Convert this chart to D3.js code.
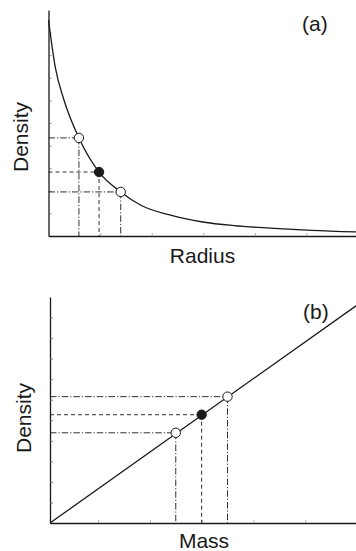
<!DOCTYPE html>
<html><head><meta charset="utf-8">
<script src="https://cdn.jsdelivr.net/npm/d3@7"></script>
<style>
html,body{margin:0;padding:0;background:#fff;}
svg text{font-family:"Liberation Sans",Arial,Helvetica,sans-serif;fill:#1a1a1a;}
</style></head>
<body><svg id="c" width="356" height="551"></svg>
<script>
// ---------- Data ----------
// Panel (a): density vs radius (decreasing curve)
const radiusCurveX = [0, 0.13, 0.30, 0.59, 0.98, 1.40, 1.80, 2.35, 2.99, 3.60, 4.29, 5.10, 5.96];
const radiusCurveY = [9.56, 7.48, 6.02, 4.34, 2.83, 1.95, 1.35, 0.93, 0.62, 0.46, 0.35, 0.25, 0.18];
const radiusPointsX = [0.59, 0.98, 1.40];
const radiusPointsY = [4.34, 2.83, 1.95];
const pointFilled = [false, true, false];
const radiusYTicks = [1, 2, 3, 4, 5, 6, 7, 8, 9];
const radiusXTicks = [1, 2, 3, 4, 5];

// Panel (b): density vs mass (straight line)
const massLineX = [0.07, 6.0];
const massLineY = [0, 10.6];
const massPointsX = [2.5, 3.0, 3.5];
const massPointsY = [4.39, 5.27, 6.15];
const massYTicks = [1, 2, 3, 4, 5, 6, 7, 8, 9, 10];
const massXTicks = [1, 2, 3, 4, 5];

const panelLabels = ["(a)", "(b)"];
const xTitles = ["Radius", "Mass"];
const yTitle = "Density";

// ---------- Drawing ----------
const svg = d3.select("#c");
const ink = "#1a1a1a";
const dashDot = "6.5,2,1.2,2";
const dashed = "4,3";
const fs = 21;

function panel(cfg) {
  const g = svg.append("g");
  const x = d3.scaleLinear().domain(cfg.xDomain).range(cfg.xRange);
  const y = d3.scaleLinear().domain(cfg.yDomain).range(cfg.yRange);

  // axes
  const ay = d3.axisLeft(y).tickValues(cfg.yTicks).tickSize(-3).tickSizeOuter(0).tickFormat("");
  const ax = d3.axisBottom(x).tickValues(cfg.xTicks).tickSize(-3).tickSizeOuter(0).tickFormat("");
  const gy = g.append("g").attr("transform", `translate(${cfg.xRange[0]},0)`).call(ay);
  const gx = g.append("g").attr("transform", `translate(0,${cfg.yRange[0]})`).call(ax);
  gy.select(".domain").attr("stroke", ink).attr("stroke-width", 1.3);
  gx.select(".domain").attr("stroke", ink).attr("stroke-width", 1.3);
  gy.selectAll(".tick line").attr("stroke", "#666").attr("stroke-width", 0.8);
  gx.selectAll(".tick line").attr("stroke", "#999").attr("stroke-width", 0.8);

  // guide lines
  const pts = cfg.px.map((v, i) => ({x: v, y: cfg.py[i], f: pointFilled[i]}));
  pts.forEach(p => {
    const dash = p.f ? dashed : dashDot;
    g.append("line").attr("x1", x(cfg.xDomain[0])).attr("x2", x(p.x))
      .attr("y1", y(p.y)).attr("y2", y(p.y))
      .attr("stroke", ink).attr("stroke-width", 0.9).attr("stroke-dasharray", dash);
    g.append("line").attr("x1", x(p.x)).attr("x2", x(p.x))
      .attr("y1", y(p.y)).attr("y2", y(cfg.yDomain[0]))
      .attr("stroke", ink).attr("stroke-width", 0.9).attr("stroke-dasharray", dash);
  });

  // curve
  const data = cfg.lx.map((v, i) => [v, cfg.ly[i]]);
  g.append("path").datum(data)
    .attr("fill", "none").attr("stroke", ink).attr("stroke-width", 1.3)
    .attr("d", d3.line().x(d => x(d[0])).y(d => y(d[1])).curve(d3.curveMonotoneX));

  // markers
  g.selectAll("circle.pt").data(pts).join("circle")
    .attr("cx", d => x(d.x)).attr("cy", d => y(d.y)).attr("r", 4.7)
    .attr("fill", d => d.f ? ink : "#fff").attr("stroke", ink).attr("stroke-width", 1);

  // texts
  g.append("text").attr("x", cfg.labelPos[0]).attr("y", cfg.labelPos[1])
    .attr("font-size", fs).text(cfg.label);
  g.append("text").attr("x", cfg.xTitlePos[0]).attr("y", cfg.xTitlePos[1])
    .attr("text-anchor", "middle").attr("font-size", fs).text(cfg.xTitle);
  g.append("text").attr("transform", `translate(${cfg.yTitlePos[0]},${cfg.yTitlePos[1]}) rotate(-90)`)
    .attr("text-anchor", "middle").attr("font-size", fs).text(yTitle);
}

panel({
  xDomain: [0, 6], xRange: [48.5, 358],
  yDomain: [0, 10], yRange: [236, 10],
  yTicks: radiusYTicks, xTicks: radiusXTicks,
  px: radiusPointsX, py: radiusPointsY,
  lx: radiusCurveX, ly: radiusCurveY,
  label: panelLabels[0], labelPos: [302, 31],
  xTitle: xTitles[0], xTitlePos: [202.5, 263],
  yTitlePos: [28, 137]
});

panel({
  xDomain: [0.07, 6], xRange: [50, 356.9],
  yDomain: [0, 11], yRange: [523, 297],
  yTicks: massYTicks, xTicks: massXTicks,
  px: massPointsX, py: massPointsY,
  lx: massLineX, ly: massLineY,
  label: panelLabels[1], labelPos: [303, 319],
  xTitle: xTitles[1], xTitlePos: [204, 548],
  yTitlePos: [31, 418]
});
</script></body></html>
